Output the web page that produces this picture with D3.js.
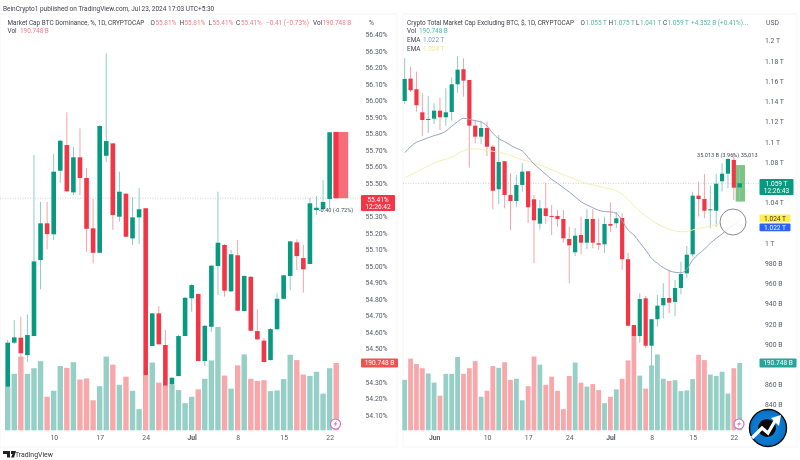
<!DOCTYPE html>
<html><head><meta charset="utf-8">
<script src="https://cdn.jsdelivr.net/npm/d3@7/dist/d3.min.js"></script>
<style>html,body{margin:0;padding:0;background:#fff}svg{display:block;filter:blur(0.35px)}text{font-family:Roboto,"Liberation Sans",sans-serif}</style>
</head><body><svg id="c" width="800" height="460"></svg>
<script>
const leftOpen=[54.271,54.537,54.567,54.462,54.577,55.036,55.258,55.192,55.576,55.731,55.445,55.657,55.532,55.228,55.080,55.666,55.741,55.298,55.437,55.167,55.294,55.349,54.517,54.714,54.523,54.285,54.335,54.577,54.805,54.831,54.426,54.633,55.000,55.127,54.847,55.065,54.728,54.935,54.607,54.549,54.432,54.618,54.802,54.940,55.143,55.048,55.012,55.338,55.344,55.405,55.81];
const leftHigh=[54.553,54.674,54.694,54.708,55.671,55.388,55.388,55.677,55.761,55.929,55.721,55.832,55.592,55.405,55.852,56.285,55.743,55.570,55.441,55.417,55.471,55.350,54.716,54.758,54.613,54.329,54.583,54.813,54.891,54.834,54.643,55.006,55.449,55.133,55.097,55.157,54.943,54.940,54.738,54.565,54.625,54.835,54.946,55.151,55.161,55.127,55.411,55.423,55.520,55.81,55.81];
const leftLow=[54.271,54.529,54.402,54.422,54.577,54.859,55.101,55.157,55.503,55.449,55.429,55.429,55.086,55.016,55.080,55.627,55.218,55.268,55.175,55.127,55.133,54.341,54.517,54.526,54.275,54.221,54.335,54.577,54.724,54.426,54.396,54.603,54.825,54.815,54.843,54.728,54.728,54.607,54.553,54.417,54.429,54.617,54.801,54.855,54.976,54.839,55.012,55.308,55.338,55.350,55.41];
const leftClose=[54.537,54.569,54.473,54.583,55.028,55.258,55.193,55.570,55.757,55.451,55.657,55.532,55.225,55.080,55.846,55.755,55.308,55.449,55.177,55.294,55.343,54.341,54.714,54.527,54.277,54.325,54.577,54.808,54.885,54.426,54.639,55.002,55.141,54.851,55.071,54.730,54.940,54.609,54.557,54.420,54.619,54.802,54.944,55.149,55.060,54.980,55.379,55.352,55.387,55.808,55.41];
const leftVol=[124,160,209,160,176,196,95,112,182,177,193,144,147,85,125,209,186,129,152,112,60,157,192,135,126,129,114,77,95,116,146,198,293,155,118,184,215,146,140,142,111,113,145,214,199,158,154,166,104,176,190.748];
const rightOpen=[1140.4,1162.5,1152,1129.2,1122.3,1122.9,1130.8,1124.3,1129.5,1156.9,1171.8,1161.2,1116,1105.1,1113.7,1095.2,1053.1,1080.8,1047.5,1041.5,1057.4,1070.9,1043.2,1019.1,1034.3,1026.7,1026.7,1023.7,1004,990.8,1007.9,1000.3,1023.7,999.7,998.7,1018.8,1019.5,1024.7,983.9,918.9,908,945.3,898.4,924.6,938.4,945.6,941.7,955.5,970,988.8,1046.8,1043.5,1032.3,1031.9,1061,1068.5,1082.1,1055];
const rightHigh=[1182.6,1174.3,1169.4,1148,1145.4,1138.1,1143.7,1153,1163.8,1184.9,1182.6,1161.2,1121.6,1120.9,1119.9,1096.9,1106.8,1081,1068.9,1067.2,1078.8,1071.2,1047.5,1042.5,1059.6,1037.6,1032.6,1032.6,1016.1,1014.8,1026,1033.3,1033.3,1024.4,1026,1040.2,1031,1029.4,990.4,918.9,950.3,947.6,924.9,948.6,960.2,973.3,963.4,981.5,997,1050.7,1060.6,1068.2,1056.7,1068.2,1078.8,1083.6,1088.7,1075];
const rightLow=[1137.4,1149.3,1129.8,1105.8,1108.8,1117.7,1111.7,1115.7,1120.9,1148.6,1144.7,1074.5,1098.6,1097.9,1086,1033.3,1038.6,1034.3,1012.9,1035.9,1050.7,1019.5,979.9,1012.9,1018.8,1007.9,1016.1,1000.3,960.2,987.1,988.8,993.8,994.8,993.1,990.4,1010.9,1014.8,973.3,917.2,848,901.4,895.9,874.4,917.2,925.5,930.5,927.8,949.3,965.1,986.5,1026,1024.4,1014.5,1016.1,1050.7,1054.1,1042.5,1041];
const rightClose=[1162.2,1151,1136.2,1121.6,1122.6,1130.8,1124.3,1129.2,1156.9,1171.4,1160.5,1116,1105.1,1113.7,1095.2,1051.7,1080.1,1047.5,1041.5,1057.4,1070.5,1035.3,1022.4,1034.3,1026.7,1025.7,1023.7,1004.6,997.7,1007.2,1000.3,1023.7,1000.3,998.3,1018.8,1017.1,1024.4,983.9,918.2,908,944.6,898.4,924.6,938,945.6,941,955.5,969.3,988.4,1046.8,1043.5,1031.9,1033.3,1058.6,1068.5,1083.1,1054.7,1059];
const rightVol=[143,203,188,176,161,135,98,160,160,208,160,176,196,95,112,182,177,193,143,146,85,125,209,186,129,152,112,60,154,192,135,124,131,114,77,95,116,146,198,293,155,118,184,215,146,140,142,111,113,145,214,199,158,154,166,104,176,190.748];
const rightEmaFast=[1089.3,1095.2,1099.6,1101.8,1104.1,1106.1,1107.8,1110.5,1115.4,1119.9,1123.3,1122.3,1120.9,1119.6,1115.7,1108.5,1103.1,1100.2,1096.6,1093.6,1091,1084.7,1078.1,1072.9,1067.9,1063,1059,1054.7,1050.4,1045.8,1040.8,1037.6,1034.9,1032.3,1031,1030.7,1029.4,1022,1012.9,1007.9,1000.3,993.1,984.9,979.9,975.6,972.6,971,970.6,974,983.2,989.1,993.8,999.7,1004.6,1008.9,1013.8,1017.8,1022];
const rightEmaSlow=[1064.6,1067.3,1070.2,1073.2,1076.2,1079.1,1081.4,1082.8,1084.7,1088,1091.3,1092.6,1093,1092.6,1091.6,1090.7,1089.7,1088.4,1086.4,1084.4,1082.4,1080.8,1078.8,1077.2,1074.8,1072.5,1069.9,1067.6,1065.3,1063,1060.7,1058.7,1057.4,1056.1,1054.7,1053.4,1051.8,1048.2,1043.2,1037,1031.3,1026.7,1022.4,1018.8,1015.8,1013.5,1011.9,1011.2,1011.2,1012.9,1014.2,1015.5,1016.8,1018.2,1019.5,1021.1,1022.8,1024];
const leftPriceTicks=[54.1,54.2,54.3,54.5,54.6,54.7,54.8,54.9,55.0,55.1,55.2,55.3,55.5,55.6,55.7,55.8,55.9,56.0,56.1,56.2,56.3,56.4];
const rightPriceTicks=[840,860,900,920,940,960,980,1000,1040,1080,1100,1120,1140,1160,1180,1200];
const rightPriceLabels=["840 B","860 B","900 B","920 B","940 B","960 B","980 B","1 T","1.04 T","1.08 T","1.1 T","1.12 T","1.14 T","1.16 T","1.18 T","1.2 T"];
const leftDateIdx=[7,14,21,28,35,42,49];
const leftDateLabels=["10","17","24","Jul","8","15","22"];
const rightDateIdx=[5,14,21,28,35,42,49,56];
const rightDateLabels=["Jun","10","17","24","Jul","8","15","22"];

const GREEN="#089981",RED="#f23645",GVOL="#95cfc6",RVOL="#f8a8ab",GW="#8fcdc2",RW="#f6a3aa",TXT="#3c3f48",AX="#555a66",LS=6.4;
const svg=d3.select("#c");
svg.append("rect").attr("width",800).attr("height",460).attr("fill","#fff");
[[0,14,397,433],[403,14,394,433]].forEach(([x,y,w,h])=>svg.append("rect").attr("x",x).attr("y",y).attr("width",w).attr("height",h).attr("fill","none").attr("stroke","#f6f6f6"));

function txt(x,y,s,o={}){return svg.append("text").attr("x",x).attr("y",y).text(s).attr("font-size",o.size||LS).attr("fill",o.fill||TXT).attr("text-anchor",o.anchor||"start").attr("font-weight",o.weight||400);}

function panel(o){
  const g=svg.append("g");
  const data=o.open.map((d,i)=>({i,o:d,h:o.high[i],l:o.low[i],c:o.close[i],v:o.vol[i],up:o.close[i]>=d}));
  const vg=g.append("g");
  vg.selectAll("rect").data(data).join("rect")
    .attr("x",d=>o.x(d.i)-o.vw/2).attr("width",o.vw)
    .attr("y",d=>o.yv(d.v)).attr("height",d=>o.yv(0)-o.yv(d.v))
    .attr("fill",d=>d.up?GVOL:RVOL);
  g.append("g").selectAll("line").data(data).join("line")
    .attr("x1",d=>o.x(d.i)).attr("x2",d=>o.x(d.i))
    .attr("y1",d=>o.y(d.h)).attr("y2",d=>o.y(d.l))
    .attr("stroke",d=>d.up?GW:RW).attr("stroke-width",1);
  g.append("g").selectAll("rect").data(data).join("rect")
    .attr("x",d=>o.x(d.i)-o.bw/2).attr("width",o.bw)
    .attr("y",d=>o.y(Math.max(d.o,d.c)))
    .attr("height",d=>Math.max(1,Math.abs(o.y(d.o)-o.y(d.c))))
    .attr("fill",d=>d.up?GREEN:RED);
  return g;
}
function axisStyle(sel,color,size){
  sel.select(".domain").remove();sel.selectAll(".tick line").remove();
  sel.selectAll("text").attr("fill",color).attr("font-size",size);
}

// left
const lx=d3.scaleLinear().domain([0,50]).range([7.7,336.2]);
const ly=d3.scaleLinear().domain([54.1,56.4]).range([415,34.3]);
const vy1=d3.scaleLinear().domain([0,190.748]).range([430.3,363]);
svg.append("line").attr("x1",0).attr("x2",361).attr("y1",ly(55.41)).attr("y2",ly(55.41)).attr("stroke","#b8bcc4").attr("stroke-width",.7).attr("stroke-dasharray","1 1.5");
panel({open:leftOpen,high:leftHigh,low:leftLow,close:leftClose,vol:leftVol,x:lx,y:ly,yv:vy1,bw:4.6,vw:5.4});
svg.append("rect").attr("x",lx(50)-3).attr("width",15).attr("y",ly(55.81)).attr("height",ly(55.41)-ly(55.81)).attr("fill",RED).attr("opacity",.72);
txt(319,211.5,"-0.40 (-0.72%)",{size:5.6,fill:"#44495a"});
const la=svg.append("g").attr("transform","translate(365.5,0)").call(d3.axisRight(ly).tickValues(leftPriceTicks).tickSize(0).tickPadding(0).tickFormat(d=>d.toFixed(2)+"%"));
axisStyle(la,AX,6.8);
const lb=svg.append("g").attr("transform","translate(0,435)").call(d3.axisBottom(lx).tickValues(leftDateIdx).tickSize(0).tickPadding(0).tickFormat((d,i)=>leftDateLabels[i]));
axisStyle(lb,AX,6.8);lb.selectAll("text").attr("font-weight",d=>d===28?700:400);

// right
const rx=d3.scaleLinear().domain([0,57]).range([404.7,739.7]);
const ry=d3.scaleLinear().domain([840,1200]).range([404.8,40.7]);
const vy2=d3.scaleLinear().domain([0,190.748]).range([430.3,363]);
svg.append("line").attr("x1",403).attr("x2",760).attr("y1",ry(1059)).attr("y2",ry(1059)).attr("stroke","#b8bcc4").attr("stroke-width",.7).attr("stroke-dasharray","1 1.5");
panel({open:rightOpen,high:rightHigh,low:rightLow,close:rightClose,vol:rightVol,x:rx,y:ry,yv:vy2,bw:4.2,vw:4.8});
const ln=d3.line().x((d,i)=>rx(i)).y(d=>ry(d)).curve(d3.curveMonotoneX);
svg.append("path").attr("d",ln(rightEmaSlow)).attr("fill","none").attr("stroke","#f5efb0").attr("stroke-width",1);
svg.append("path").attr("d",ln(rightEmaFast)).attr("fill","none").attr("stroke","#99a3c4").attr("stroke-width",1);
svg.append("rect").attr("x",rx(57)-4).attr("width",9.3).attr("y",ry(1077)).attr("height",ry(1041)-ry(1077)).attr("fill","#4caf50").attr("opacity",.72);
svg.append("line").attr("x1",rx(57)).attr("x2",rx(57)).attr("y1",ry(1075)).attr("y2",ry(1041)).attr("stroke",GW);
svg.append("rect").attr("x",rx(57)-2.1).attr("width",4.2).attr("y",ry(1059)).attr("height",ry(1055)-ry(1059)).attr("fill",GREEN);
txt(697,157,"35.013 B (3.96%) 35,013",{size:5.6,fill:"#44495a"});
svg.append("circle").attr("cx",733).attr("cy",222).attr("r",13).attr("fill","#fff").attr("fill-opacity",.85).attr("stroke","#8c8c8c").attr("stroke-width",1);
const ra=svg.append("g").attr("transform","translate(765,0)").call(d3.axisRight(ry).tickValues(rightPriceTicks).tickSize(0).tickPadding(0).tickFormat((d,i)=>rightPriceLabels[i]));
axisStyle(ra,AX,6.8);
const rb=svg.append("g").attr("transform","translate(0,435)").call(d3.axisBottom(rx).tickValues(rightDateIdx).tickSize(0).tickPadding(0).tickFormat((d,i)=>rightDateLabels[i]));
axisStyle(rb,AX,6.8);rb.selectAll("text").attr("font-weight",d=>(d===5||d===35)?700:400);

// header & legends
txt(3,11,"BeinCrypto1 published on TradingView.com, Jul 23, 2024 17:03 UTC+5:30",{size:6.5});
txt(7.5,24.5,"Market Cap BTC Dominance, %, 1D, CRYPTOCAP");
const pr="#ee7d86",pg="#4fb8a6";
[[150.5,"O"],[179.5,"H"],[208.5,"L"],[236,"C"],[313,"Vol"]].forEach(([x,s])=>txt(x,24.5,s));
[[155.5,"55.81%"],[184.5,"55.81%"],[212.5,"55.41%"],[241,"55.41%"],[266,"−0.41 (−0.73%)"],[322.5,"190.748 B"]].forEach(([x,s])=>txt(x,24.5,s,{fill:pr}));
txt(7.5,33,"Vol");txt(20,33,"190.748 B",{fill:pr});
txt(369,25,"%",{size:6.8,fill:AX});
txt(407,24.5,"Crypto Total Market Cap Excluding BTC, $, 1D, CRYPTOCAP");
[[580.5,"O"],[608.5,"H"],[636,"L"],[663,"C"]].forEach(([x,s])=>txt(x,24.5,s));
[[585.5,"1.055 T"],[613.5,"1.075 T"],[640,"1.041 T"],[667.5,"1.059 T"],[691,"+4.352 B (+0.41%)..."]].forEach(([x,s])=>txt(x,24.5,s,{fill:pg}));
txt(407,33,"Vol");txt(419,33,"190.748 B",{fill:pg});
txt(407,42,"EMA");txt(423,42,"1.022 T",{fill:"#7f92d8"});
txt(407,51,"EMA");txt(423,51,"1.024 T",{fill:"#f2e88e"});
txt(766,25,"USD",{size:6.8,fill:AX});

// price tags
function tag(x,y,w,h,fill,lines,tc){
  svg.append("rect").attr("x",x).attr("y",y).attr("width",w).attr("height",h).attr("rx",1).attr("fill",fill);
  lines.forEach((s,k)=>txt(x+w/2,y+(lines.length>1?6.5+k*7.3:h/2+2.4),s,{size:6.6,fill:tc||"#fff",anchor:"middle"}));
}
tag(361,195,34,16,RED,["55.41%","12:26:42"]);
tag(361,358.5,37,9,"#ef5350",["190.748 B"]);
tag(759.5,179,34,16,GREEN,["1.059 T","12:26:43"]);
tag(759.5,214.5,31,7.8,"#fff04a",["1.024 T"],"#333");
tag(759.5,223.5,31,7.8,"#2962ff",["1.022 T"]);
tag(759.5,358.5,37,9,"#26a69a",["190.748 B"]);

// flash icons
[[335.5,424],[739,424]].forEach(([x,y])=>{
  svg.append("circle").attr("cx",x).attr("cy",y).attr("r",5).attr("fill","#fff").attr("stroke","#c56fd0").attr("stroke-width",1.1);
  svg.append("path").attr("transform",`translate(${x},${y})`).attr("d","M1.2,-3 L-2,0.6 L-0.2,0.6 L-1.2,3 L2,-0.7 L0.2,-0.7 Z").attr("fill","#e86aa0");
});

// TradingView mark
const tv=svg.append("g").attr("transform","translate(3,451)");
tv.append("path").attr("d","M0,0 H7 V6.5 H4 V3 H0 Z M8,0 H13 L11,6.5 H8 L9.5,3 H8 Z").attr("fill","#222");
txt(15,457,"TradingView",{size:6.9,fill:"#333"});

// corner badge
const lg=svg.append("g").attr("transform","translate(768,428)");
const grad=svg.append("defs").append("radialGradient").attr("id","bg");
grad.append("stop").attr("offset","0%").attr("stop-color","#0d8fe8");
grad.append("stop").attr("offset","100%").attr("stop-color","#0a6fc4");
lg.append("circle").attr("r",18.5).attr("fill","url(#bg)").attr("stroke","#0a0a0a").attr("stroke-width",1.4);
lg.append("circle").attr("cx",-1).attr("cy",0).attr("r",9).attr("fill","#0a0a0a");
lg.append("path").attr("d","M-16,10 L-6,0 L0,5 L7,-7").attr("fill","none").attr("stroke","#fff").attr("stroke-width",3.2).attr("stroke-linejoin","miter");
lg.append("path").attr("d","M3,-10 L13,-13 L11,-2 Z").attr("fill","#fff");
</script></body></html>
